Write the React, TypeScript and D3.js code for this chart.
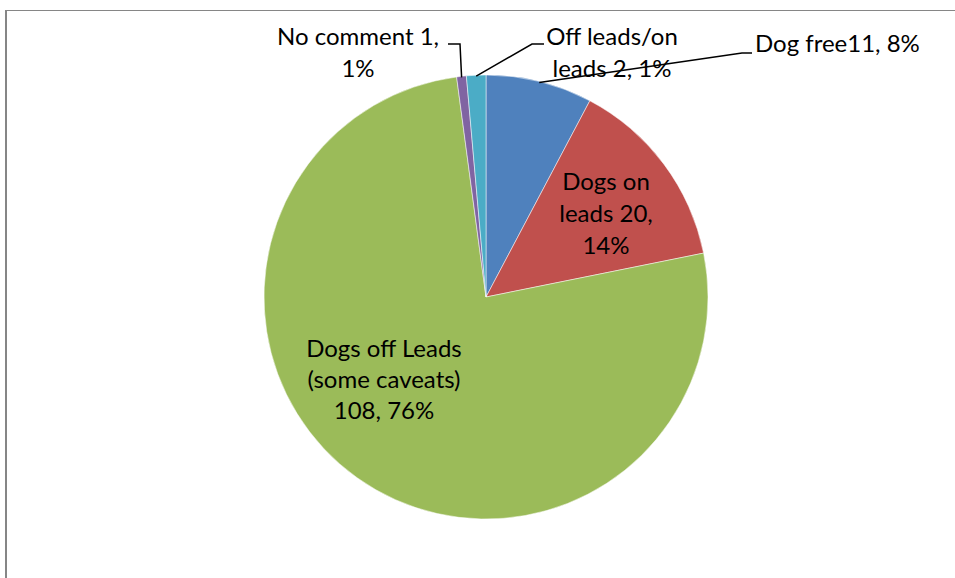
import React from "react";
import * as d3 from "d3";

const categories = ["Dog free", "Dogs on leads", "Dogs off Leads (some caveats)", "No comment", "Off leads/on leads"];
const values = [11, 20, 108, 1, 2];
const labelLines = [
  ["Dog free11, 8%"],
  ["Dogs on", "leads 20,", "14%"],
  ["Dogs off Leads", "(some caveats)", "108, 76%"],
  ["No comment 1,", "1%"],
  ["Off leads/on", "leads 2, 1%"],
];
const colors = ["#4F81BD", "#C0504D", "#9BBB59", "#8064A2", "#4BACC6"];

// layout (positions of labels, not data)
const W = 955, H = 578;
const cx = 486, cy = 297, R = 222;
const FONT = "Lato, 'Open Sans', sans-serif";
const FS = 24;
const LH = 32;
const labelLayout: { x: number; y: number; anchor: string; lh: number; leader?: [number, number][] }[] = [
  { x: 755, y: 52, anchor: "start", lh: LH, leader: [[742, 53], [752, 53]] },
  { x: 606, y: 190, anchor: "middle", lh: LH },
  { x: 384, y: 357, anchor: "middle", lh: 31 },
  { x: 358, y: 45, anchor: "middle", lh: LH, leader: [[460, 44], [448, 44]] },
  { x: 612, y: 45, anchor: "middle", lh: LH, leader: [[532, 44], [544, 44]] },
];

export default function App() {
  const pie = d3.pie<number>().sort(null).value((d) => d);
  const arcs = pie(values);
  const arc = d3.arc<d3.PieArcDatum<number>>().innerRadius(0).outerRadius(R);

  return (
    <svg width={W} height={H} style={{ position: "absolute", left: 0, top: 0, background: "#fff" }}>
      <line x1={5.5} y1={10.5} x2={W} y2={10.5} stroke="#868686" strokeWidth={1.2} />
      <line x1={6} y1={10} x2={6} y2={H} stroke="#868686" strokeWidth={2} />
      <g transform={`translate(${cx},${cy})`}>
        {arcs.map((a, i) => (
          <path key={categories[i]} d={arc(a) || ""} fill={colors[i]} stroke="#fff" strokeWidth={0.5} />
        ))}
      </g>
      {arcs.map((a, i) => {
        const L = labelLayout[i];
        if (!L.leader) return null;
        const mid = (a.startAngle + a.endAngle) / 2;
        const sx = cx + Math.sin(mid) * (R - 1);
        const sy = cy - Math.cos(mid) * (R - 1);
        const pts = [[sx, sy], ...L.leader];
        return (
          <path
            key={"ld" + i}
            d={d3.line()(pts as [number, number][]) || ""}
            fill="none"
            stroke="#000"
            strokeWidth={1.5}
          />
        );
      })}
      {labelLines.map((lines, i) => {
        const L = labelLayout[i];
        return (
          <text
            key={"lb" + i}
            x={L.x}
            y={L.y}
            textAnchor={L.anchor}
            fontFamily={FONT}
            fontSize={FS}
            fill="#000"
          >
            {lines.map((t, j) => (
              <tspan key={j} x={L.x} y={L.y + j * L.lh}>
                {t}
              </tspan>
            ))}
          </text>
        );
      })}
    </svg>
  );
}
